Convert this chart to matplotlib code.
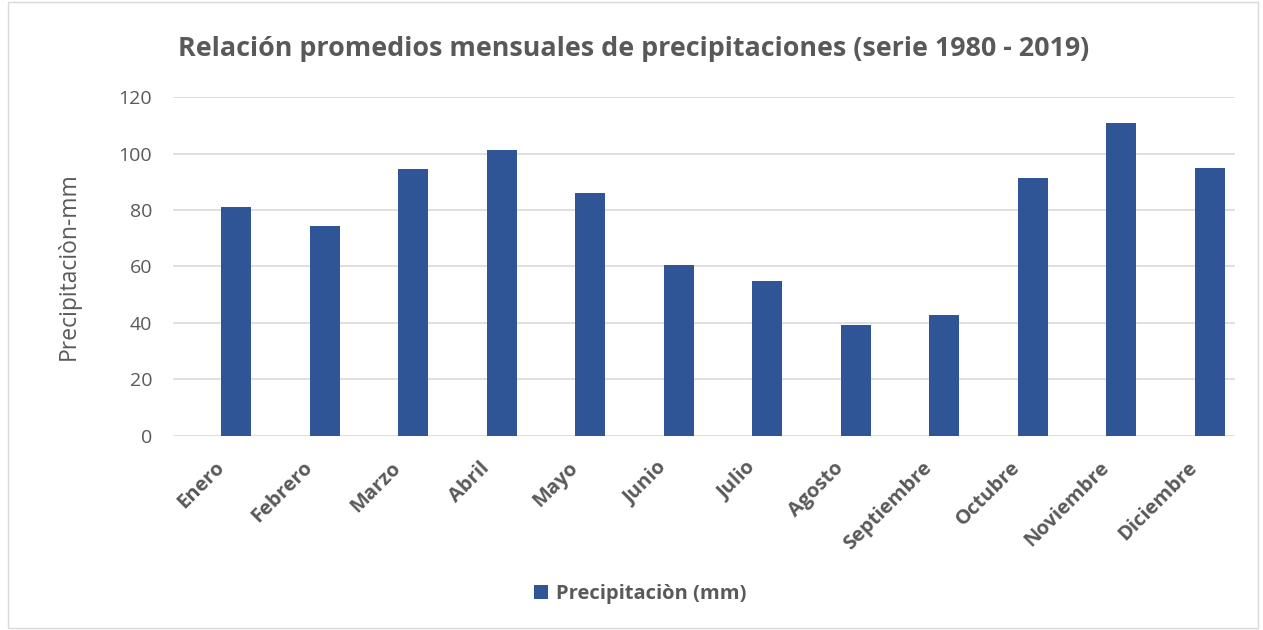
import matplotlib.pyplot as plt
from matplotlib.patches import Rectangle
from matplotlib.transforms import ScaledTranslation

meses = ['Enero', 'Febrero', 'Marzo', 'Abril', 'Mayo', 'Junio', 'Julio',
         'Agosto', 'Septiembre', 'Octubre', 'Noviembre', 'Diciembre']
precipitacion = [81.2, 74.5, 94.4, 101.4, 85.9, 60.6, 55.0, 39.3, 42.8, 91.3, 110.7, 94.7]
y_ticks = [0, 20, 40, 60, 80, 100, 120]

gris = '#595959'
azul = '#2F5597'
plt.rcParams['font.family'] = ['Open Sans', 'DejaVu Sans']

fig = plt.figure(figsize=(12.63, 6.3), dpi=100)
fig.patches.append(Rectangle((0.006, 0.003), 0.99, 0.994, transform=fig.transFigure,
                             fill=False, edgecolor='#d9d9d9', linewidth=1))
ax = fig.add_axes([0.137, 0.308, 0.841, 0.538])

x = range(len(meses))
ax.bar(x, precipitacion, width=0.34, color=azul, label='Precipitaciòn (mm)', zorder=3)

ax.set_xlim(-0.713, 11.29)
ax.set_ylim(0, 120)
ax.set_yticks(y_ticks)
ax.yaxis.grid(True, color='#d9d9d9', linewidth=1.2, zorder=0)
for s in ax.spines.values():
    s.set_visible(False)
ax.tick_params(axis='both', length=0, colors=gris)
ax.tick_params(axis='y', pad=15, labelsize=14)
ax.tick_params(axis='x', pad=0)
ax.set_xticks(list(x))
ax.set_xticklabels(meses, rotation=45, ha='right', rotation_mode='anchor',
                   fontweight='bold', fontsize=14.5)
# desplazar las etiquetas del eje x como en el original
desplaz = ScaledTranslation(-22 / 100, -22 / 100, fig.dpi_scale_trans)
for lbl in ax.get_xticklabels():
    lbl.set_transform(lbl.get_transform() + desplaz)
ax.set_ylabel('Precipitaciòn-mm', color=gris, fontsize=16.5, labelpad=27)

fig.text(0.502, 0.923, 'Relación promedios mensuales de precipitaciones (serie 1980 - 2019)',
         ha='center', va='center', fontsize=19.4, fontweight='bold', color=gris)

leg = fig.legend(loc='center', bbox_to_anchor=(0.507, 0.057), frameon=False,
                 handlelength=0.7, handleheight=0.7, handletextpad=0.4,
                 prop={'weight': 'bold', 'size': 14.5})
for t in leg.get_texts():
    t.set_color(gris)

fig.savefig('out.png', dpi=100)
